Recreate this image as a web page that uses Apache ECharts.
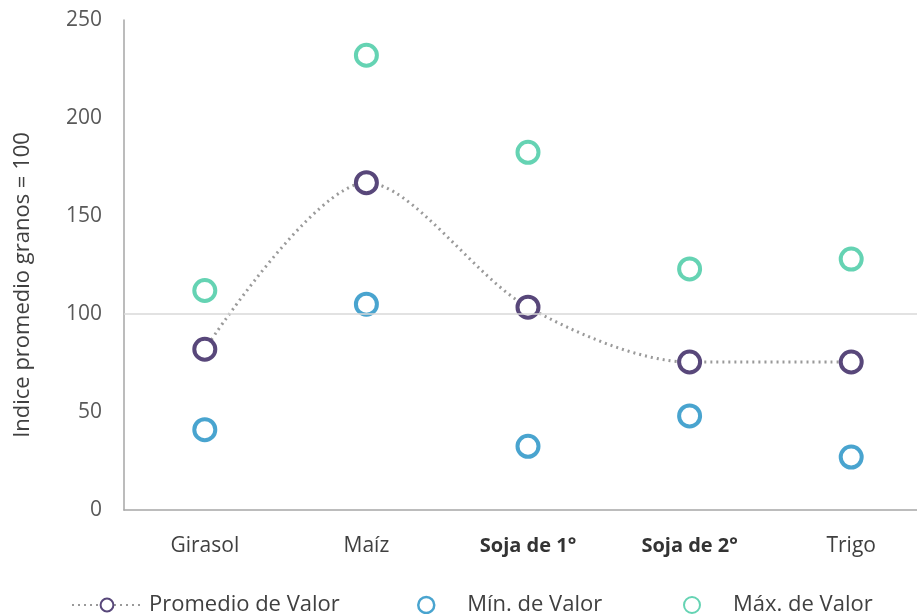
<!DOCTYPE html>
<html>
<head>
<meta charset="utf-8">
<script src="https://cdn.jsdelivr.net/npm/echarts@6/dist/echarts.min.js"></script>
<style>
  html, body { margin: 0; padding: 0; background: #fff; }
  #chart { width: 917px; height: 614px; }
</style>
</head>
<body>
<div id="chart"></div>
<script>
const categories = ['Girasol', 'Maíz', 'Soja de 1°', 'Soja de 2°', 'Trigo']
const boldCategories = ['Soja de 1°', 'Soja de 2°']
const promedio = [82, 167, 103.5, 75.5, 75.5]
const minimo = [41, 105, 32.5, 48, 27]
const maximo = [112, 232, 182.5, 123, 128]
const yTicks = { min: 0, max: 250, interval: 50 }
const refLine = 100

const FONT = '"Open Sans", sans-serif'
const PURPLE = '#58477a'
const BLUE = '#1b8dc3'
const TEAL = '#3ec8a0'

const chart = echarts.init(document.getElementById('chart'))

const legendText = { fontFamily: FONT, fontSize: 22, color: '#404040' }

const legendBase = {
  top: 589,
  itemHeight: 16,
  selectedMode: false,
}

// same look for all three markers
const ring = (c) => ({ color: '#fff', borderColor: c, borderWidth: 4 })

chart.setOption({
  animation: false,
  grid: { left: 124, top: 20, bottom: 104, width: 808, outerBoundsMode: 'none' },
  legend: [
    Object.assign({}, legendBase, {
      left: 66,
      itemWidth: 70,
      data: ['Promedio de Valor'],
      textStyle: Object.assign({}, legendText, { padding: [0, 0, 0, 2] }),
    }),
    Object.assign({}, legendBase, {
      left: 412,
      itemWidth: 16,
      data: ['Mín. de Valor'],
      itemStyle: { borderWidth: 2.5 },
      textStyle: Object.assign({}, legendText, { padding: [0, 0, 0, 28] }),
    }),
    Object.assign({}, legendBase, {
      left: 678,
      itemWidth: 16,
      data: ['Máx. de Valor'],
      itemStyle: { borderWidth: 2 },
      textStyle: Object.assign({}, legendText, { padding: [0, 0, 0, 28] }),
    }),
  ],
  xAxis: {
    type: 'category',
    data: categories,
    boundaryGap: true,
    axisLine: { lineStyle: { color: '#a6a6a6', width: 1.5 } },
    axisTick: { show: false },
    axisLabel: {
      interval: 0,
      margin: 26,
      fontFamily: FONT,
      fontSize: 21,
      color: '#404040',
      formatter: (v) => (boldCategories.includes(v) ? '{b|' + v + '}' : v),
      rich: { b: { fontFamily: FONT, fontSize: 20, fontWeight: 'bold', color: '#333' } },
    },
  },
  yAxis: {
    type: 'value',
    min: yTicks.min,
    max: yTicks.max,
    interval: yTicks.interval,
    name: 'Indice promedio granos = 100',
    nameLocation: 'middle',
    nameGap: 90,
    nameTextStyle: { fontFamily: FONT, fontSize: 22, color: '#404040', padding: [0, 0, 0, -40] },
    axisLine: { show: true, lineStyle: { color: '#a6a6a6', width: 1.5 } },
    axisTick: { show: false },
    splitLine: { show: false },
    axisLabel: { margin: 22, fontFamily: FONT, fontSize: 21, color: '#595959' },
  },
  series: [
    {
      name: 'Promedio de Valor',
      type: 'line',
      data: promedio,
      smooth: 0.3,
      symbol: 'circle',
      symbolSize: 21,
      lineStyle: { color: '#9a9a9a', width: 3, type: [2, 4] },
      itemStyle: ring(PURPLE),
      z: 3,
      markLine: {
        silent: true,
        symbol: 'none',
        label: { show: false },
        lineStyle: { color: '#d9d9d9', width: 1.5, type: 'solid' },
        data: [{ yAxis: refLine }],
      },
    },
    {
      name: 'Mín. de Valor',
      type: 'scatter',
      data: minimo,
      symbol: 'circle',
      symbolSize: 21,
      itemStyle: ring(BLUE),
      z: 4,
    },
    {
      name: 'Máx. de Valor',
      type: 'scatter',
      data: maximo,
      symbol: 'circle',
      symbolSize: 21,
      itemStyle: ring(TEAL),
      z: 4,
    },
  ],
})
</script>
</body>
</html>
